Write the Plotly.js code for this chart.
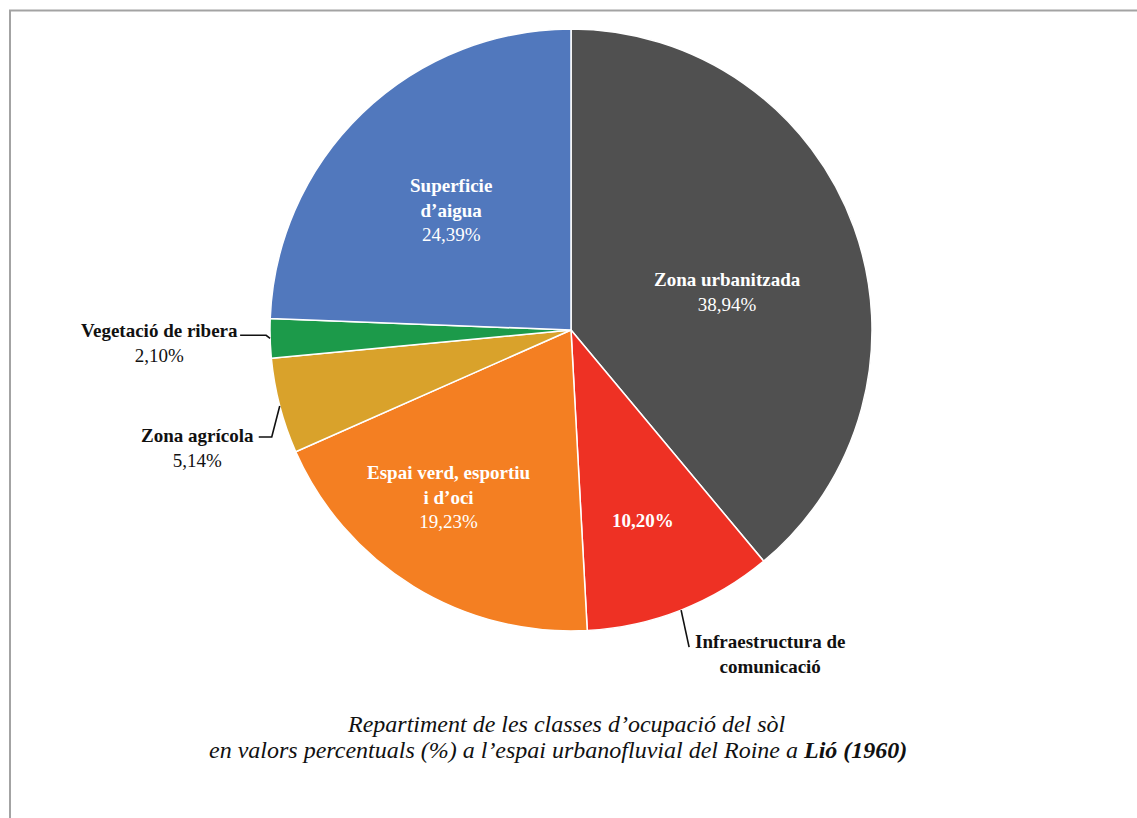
<!DOCTYPE html>
<html>
<head>
<meta charset="utf-8">
<script src="https://cdn.plot.ly/plotly-3.0.1.min.js"></script>
<style>
  html, body { margin: 0; padding: 0; background: #fff; }
  #chart { width: 1137px; height: 818px; }
</style>
</head>
<body>
<div id="chart"></div>
<script>
// ---- data ----
const categories = ["Zona urbanitzada", "Infraestructura de comunicació", "Espai verd, esportiu i d’oci", "Zona agrícola", "Vegetació de ribera", "Superficie d’aigua"];
const values = [38.94, 10.20, 19.23, 5.14, 2.10, 24.39];
const sliceColors = ["#505050", "#EE3124", "#F47F22", "#D9A22B", "#1C9A4A", "#5178BD"];
const labelTexts = ["<b>Zona urbanitzada</b>", "<b>Infraestructura de<br>comunicació</b>", "<b>Espai verd, esportiu<br>i d’oci</b>", "<b>Zona agrícola</b>", "<b>Vegetació de ribera</b>", "<b>Superficie<br>d’aigua</b>"];
const captionLines = ["Repartiment de les classes d’ocupació del sòl", "en valors percentuals (%) a l’espai urbanofluvial del Roine a <b>Lió (1960)</b>"];

// ---- layout constants ----
const W = 1137, H = 818;
const CX = 571, CY = 330, R = 301;
const px = x => x / W;
const py = y => 1 - y / H;
const fmt = v => v.toFixed(2).replace('.', ',') + '%';
const FONT = 'Liberation Serif, serif';

// label placements (pixel centres)
const labelPos = [
  {x: 727, y: 292, inside: true},
  {x: 770, y: 654, inside: false},
  {x: 449, y: 497, inside: true},
  {x: 197, y: 448, inside: false},
  {x: 159, y: 343, inside: false},
  {x: 451, y: 210, inside: true}
];
// leader line offsets (px) from slice mid-edge point, for outside labels
const leaders = {
  1: [[8, 37]],
  3: [[-8, 31], [-21, 31]],
  4: [[-4, -3], [-30, -3]]
};

const total = values.reduce((a, b) => a + b, 0);
let cum = 0;
const mids = values.map(v => { const m = (cum + v / 2) / total * 2 * Math.PI; cum += v; return m; });

const annotations = [];
const shapes = [];
values.forEach((v, i) => {
  const lp = labelPos[i];
  const color = lp.inside ? "#ffffff" : "#111111";
  const text = (i === 1) ? labelTexts[i] : labelTexts[i] + "<br>" + fmt(v);
  annotations.push({
    xref: 'paper', yref: 'paper', x: px(lp.x), y: py(lp.y),
    xanchor: 'center', yanchor: 'middle', showarrow: false,
    text: text, align: 'center',
    font: {family: FONT, size: 19, color: color}
  });
  if (leaders[i]) {
    const ax = CX + R * Math.sin(mids[i]);
    const ay = CY - R * Math.cos(mids[i]);
    const pts = [[ax, ay]].concat(leaders[i].map(p => [ax + p[0], ay + p[1]]));
    const pth = pts.map((p, k) => (k ? 'L ' : 'M ') + px(p[0]) + ' ' + py(p[1])).join(' ');
    shapes.push({type: 'path', xref: 'paper', yref: 'paper', path: pth,
      line: {color: '#111111', width: 1.6}});
  }
});
// red slice percentage inside, bold white
annotations.push({
  xref: 'paper', yref: 'paper', x: px(643), y: py(520),
  xanchor: 'center', yanchor: 'middle', showarrow: false,
  text: "<b>" + fmt(values[1]) + "</b>",
  font: {family: FONT, size: 19, color: '#ffffff'}
});
// caption (two lines)
const capPos = [{x: 566, y: 724}, {x: 558, y: 750}];
captionLines.forEach((t, k) => {
  annotations.push({
    xref: 'paper', yref: 'paper', x: px(capPos[k].x), y: py(capPos[k].y),
    xanchor: 'center', yanchor: 'middle', showarrow: false,
    text: "<i>" + t + "</i>",
    font: {family: FONT, size: 24, color: '#111111'}
  });
});
// frame
shapes.push({type: 'rect', xref: 'paper', yref: 'paper',
  x0: px(10), x1: px(1160), y0: py(840), y1: py(10.5),
  line: {color: '#a3a3a3', width: 2}, fillcolor: 'rgba(0,0,0,0)', layer: 'above'});

const trace = {
  type: 'pie',
  labels: categories,
  values: values,
  sort: false,
  direction: 'clockwise',
  rotation: 0,
  marker: {colors: sliceColors, line: {color: '#ffffff', width: 1.5}},
  textinfo: 'none',
  hoverinfo: 'label+percent',
  showlegend: false,
  domain: {x: [px(CX - R - 60), px(CX + R + 60)], y: [py(CY + R), py(CY - R)]}
};

Plotly.newPlot('chart', [trace], {
  width: W, height: H,
  margin: {l: 0, r: 0, t: 0, b: 0},
  paper_bgcolor: '#ffffff',
  showlegend: false,
  annotations: annotations,
  shapes: shapes
}, {displayModeBar: false, staticPlot: true});
</script>
</body>
</html>
